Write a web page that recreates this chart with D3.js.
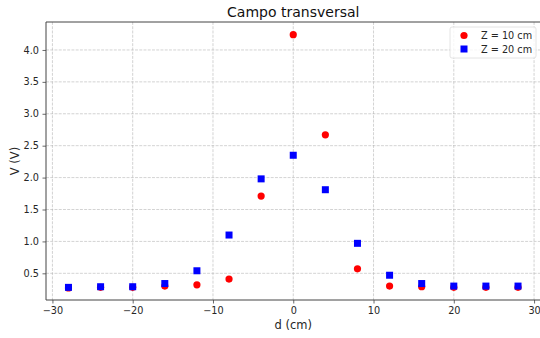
<!DOCTYPE html>
<html><head><meta charset="utf-8">
<script src="https://cdn.jsdelivr.net/npm/d3@7"></script>
<style>body{margin:0;background:#fff}svg{display:block;font-family:"DejaVu Sans",sans-serif}</style>
</head><body>
<svg id="c" width="540" height="338"></svg>
<script>
const dValues = [-28,-24,-20,-16,-12,-8,-4,0,4,8,12,16,20,24,28];
const vZ10 = [0.27,0.28,0.28,0.30,0.32,0.41,1.71,4.24,2.67,0.57,0.30,0.29,0.28,0.28,0.28];
const vZ20 = [0.28,0.29,0.29,0.34,0.54,1.10,1.98,2.35,1.81,0.97,0.47,0.34,0.30,0.30,0.30];
const xTicks = [-30,-20,-10,0,10,20,30];
const yTicks = [0.5,1.0,1.5,2.0,2.5,3.0,3.5,4.0];
const seriesNames = ["Z = 10 cm","Z = 20 cm"];

const svg = d3.select("#c");
const L=46, R=540.5, T=22, B=300;
const x = d3.scaleLinear().domain([-30.8,30.8]).range([L,R]);
const y = d3.scaleLinear().domain([0.082,4.438]).range([B,T]);

const g = svg.append("g");
// grid
g.selectAll(".gx").data(xTicks).enter().append("line")
 .attr("x1",d=>x(d)).attr("x2",d=>x(d)).attr("y1",T).attr("y2",B)
 .attr("stroke","#b0b0b0").attr("stroke-opacity",0.7).attr("stroke-width",0.8).attr("stroke-dasharray","2.96,1.28");
g.selectAll(".gy").data(yTicks).enter().append("line")
 .attr("x1",L).attr("x2",R).attr("y1",d=>y(d)).attr("y2",d=>y(d))
 .attr("stroke","#b0b0b0").attr("stroke-opacity",0.7).attr("stroke-width",0.8).attr("stroke-dasharray","2.96,1.28");

// points
g.selectAll(".p1").data(dValues).enter().append("circle")
 .attr("cx",(d)=>x(d)).attr("cy",(d,i)=>y(vZ10[i])).attr("r",3.6).attr("fill","#ff0000");
const s=7;
g.selectAll(".p2").data(dValues).enter().append("rect")
 .attr("x",d=>x(d)-s/2).attr("y",(d,i)=>y(vZ20[i])-s/2).attr("width",s).attr("height",s).attr("fill","#0000ff");

// axes
const fmtX = d=>d<0?"\u2212"+Math.abs(d):String(d);
const xa = svg.append("g").attr("transform",`translate(0,${B})`)
 .call(d3.axisBottom(x).tickValues(xTicks).tickFormat(fmtX).tickSize(3.5).tickPadding(3.5));
const ya = svg.append("g").attr("transform",`translate(${L},0)`)
 .call(d3.axisLeft(y).tickValues(yTicks).tickFormat(d3.format(".1f")).tickSize(3.5).tickPadding(3.5));
[xa,ya].forEach(a=>{
  a.selectAll("text").attr("font-size","9.7px").attr("fill","#262626").attr("font-family","DejaVu Sans");
  a.selectAll(".tick line").attr("stroke","#444").attr("stroke-width",0.8);
  a.select(".domain").remove();
});
// spines
svg.append("line").attr("x1",L).attr("x2",L).attr("y1",T).attr("y2",B).attr("stroke","#444").attr("stroke-width",1);
svg.append("line").attr("x1",L).attr("x2",R).attr("y1",B).attr("y2",B).attr("stroke","#444").attr("stroke-width",1);
svg.append("line").attr("x1",L).attr("x2",R).attr("y1",T).attr("y2",T).attr("stroke","#444").attr("stroke-width",1);

// labels
svg.append("text").attr("x",(L+R)/2).attr("y",17).attr("text-anchor","middle").attr("font-size","14px").attr("fill","#111").text("Campo transversal");
svg.append("text").attr("x",(L+R)/2).attr("y",329).attr("text-anchor","middle").attr("font-size","11.5px").attr("fill","#262626").text("d (cm)");
svg.append("text").attr("transform",`translate(19,${(T+B)/2}) rotate(-90)`).attr("text-anchor","middle").attr("font-size","11.5px").attr("fill","#262626").text("V (V)");

// legend
const lg = svg.append("g").attr("transform","translate(450,27)");
lg.append("rect").attr("width",86).attr("height",31).attr("rx",2).attr("fill","#fff").attr("fill-opacity",0.8).attr("stroke","#ddd").attr("stroke-width",0.8);
lg.append("circle").attr("cx",14).attr("cy",8.5).attr("r",3.6).attr("fill","#ff0000");
lg.append("rect").attr("x",14-3.5).attr("y",22-3.5).attr("width",7).attr("height",7).attr("fill","#0000ff");
lg.selectAll(".lt").data(seriesNames).enter().append("text")
 .attr("x",31).attr("y",(d,i)=>12+i*14).attr("font-size","9.7px").attr("fill","#262626").text(d=>d);
</script>
</body></html>
